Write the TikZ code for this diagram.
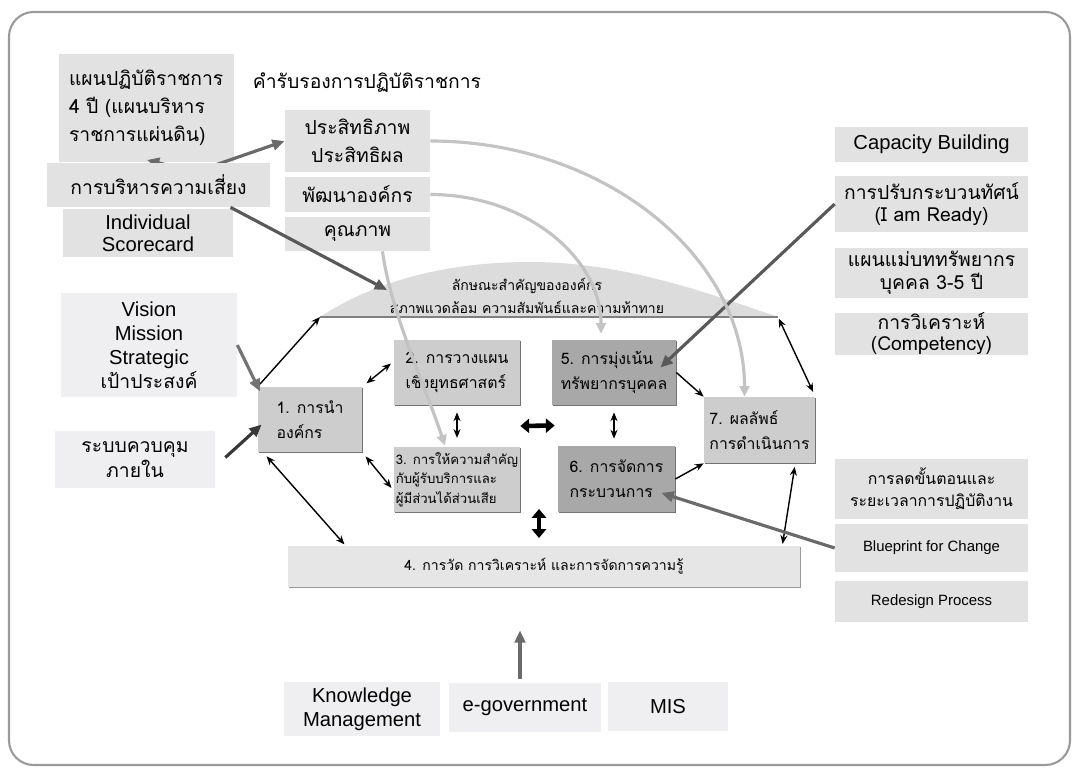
\documentclass[tikz,border=0pt]{standalone}
\usepackage{fontspec}
\setmainfont{Liberation Sans}
\newfontfamily\thaifont[Script=Thai]{Loma}
\usetikzlibrary{arrows.meta, shadows, calc}
\definecolor{framegray}{HTML}{9A9A9A}
\definecolor{sidegray}{HTML}{E2E2E2}
\definecolor{palegray}{HTML}{EFEFF1}
\definecolor{coregray}{HTML}{CDCDCD}
\definecolor{deepgray}{HTML}{A8A8A8}
\definecolor{bargray}{HTML}{E6E6E6}
\definecolor{archgray}{HTML}{DCDCDC}
\definecolor{softline}{HTML}{C3C3C3}
\definecolor{feedgray}{HTML}{6A6A6A}

\begin{document}
\begin{tikzpicture}[x=0.02cm, y=-0.02cm,
    bigthai/.style={font=\thaifont\fontsize{11}{16}\selectfont},
    biglatin/.style={font=\fontsize{11.5}{13}\selectfont},
    midthai/.style={font=\thaifont\fontsize{9}{14}\selectfont},
    side/.style={fill=sidegray, inner sep=0pt, align=center},
    pale/.style={fill=palegray, inner sep=0pt, align=center},
    core/.style={fill=coregray, inner sep=0pt, align=left, midthai,
                 drop shadow={shadow xshift=0.7pt, shadow yshift=-0.7pt, opacity=1, fill=black!55}},
    one/.style={-{Stealth[length=5pt,width=4pt]}, line width=0.8pt},
    duo/.style={{Stealth[length=5pt,width=4pt]}-{Stealth[length=5pt,width=4pt]}, line width=0.8pt},
    fat/.style={{Triangle[length=5pt,width=8pt]}-{Triangle[length=5pt,width=8pt]}, line width=2.6pt},
    feed/.style={-{Triangle[length=7pt,width=6pt]}, line width=1.8pt, draw=feedgray},
    soft/.style={-{Triangle[length=6pt,width=5.5pt]}, line width=1.8pt, draw=softline}]
  \useasboundingbox (0,0) rectangle (1074,767);
  \draw[framegray, line width=1.2pt, rounded corners=14pt] (9,12) rectangle (1070,765);

  % organisational profile
  \coordinate (archL) at (320,317);
  \coordinate (archR) at (778,317);
  \coordinate (archhit) at (387,290);
  \fill[archgray] (archL) .. controls (370,284) and (440,262) .. (530,262)
        .. controls (620,262) and (700,290) .. (archR) -- cycle;
  \draw[black!50, line width=1pt] (archL) -- (archR);
  \node[font=\thaifont\fontsize{8}{13.5}\selectfont, align=center] (profile) at (527,296)
        {ลักษณะสำคัญขององค์กร\\สภาพแวดล้อม ความสัมพันธ์และความท้าทาย};

  % top left
  \node[side, bigthai, align=left, text width=3.1cm, minimum width=3.5cm, minimum height=2.16cm]
        (plan) at (146.5,108) {แผนปฏิบัติราชการ\\4 ปี (แผนบริหาร\\ราชการแผ่นดิน)};
  \node[bigthai] (pledge) at (367,83) {คำรับรองการปฏิบัติราชการ};
  \node[side, bigthai, minimum width=2.9cm, minimum height=1.24cm] (eff) at (357.5,141) {ประสิทธิภาพ\\ประสิทธิผล};
  \node[side, bigthai, minimum width=2.9cm, minimum height=0.7cm] (dev) at (357.5,194.5) {พัฒนาองค์กร};
  \node[side, bigthai, minimum width=2.9cm, minimum height=0.68cm] (qual) at (357.5,234) {คุณภาพ};
  \node[side, font=\fontsize{11.5}{12.5}\selectfont, minimum width=3.4cm, minimum height=0.96cm]
        (score) at (148,233) {Individual\\Scorecard};
  \coordinate (riskcore) at (195,172);
  \draw[feed] (riskcore) -- (eff.west);
  \draw[feed] (riskcore) -- (147,160);
  \node[side, bigthai, minimum width=4.46cm, minimum height=0.88cm] (risk) at (158.5,185) {การบริหารความเสี่ยง};

  % right column
  \node[side, biglatin, minimum width=3.86cm, minimum height=0.7cm] (cap) at (931.5,144.5) {Capacity Building};
  \node[side, font=\thaifont\fontsize{11}{13}\selectfont, minimum width=3.86cm, minimum height=1.12cm]
        (ready) at (931.5,204) {การปรับกระบวนทัศน์\\(I am Ready)};
  \node[side, font=\thaifont\fontsize{11}{13}\selectfont, minimum width=3.86cm, minimum height=1.0cm]
        (hrplan) at (931.5,273) {แผนแม่บททรัพยากร\\บุคคล 3-5 ปี};
  \node[side, font=\thaifont\fontsize{11}{12}\selectfont, minimum width=3.86cm, minimum height=0.84cm]
        (comp) at (931.5,334) {การวิเคราะห์\\(Competency)};
  \node[side, font=\thaifont\fontsize{9}{12.5}\selectfont, minimum width=3.86cm, minimum height=1.2cm]
        (reduce) at (931.5,489) {การลดขั้นตอนและ\\ระยะเวลาการปฏิบัติงาน};
  \node[side, font=\fontsize{8.5}{10}\selectfont, minimum width=3.86cm, minimum height=0.96cm]
        (blue) at (931.5,548) {Blueprint for Change};
  \node[side, font=\fontsize{8.5}{10}\selectfont, minimum width=3.86cm, minimum height=0.82cm]
        (redes) at (931.5,601.5) {Redesign Process};

  % left inputs
  \node[pale, font=\fontsize{11.5}{13.6}\selectfont, minimum width=3.52cm, minimum height=2.08cm]
        (vms) at (149,345) {Vision\\Mission\\Strategic\\{\thaifont\fontsize{11}{13.6}\selectfont เป้าประสงค์}};
  \node[pale, font=\thaifont\fontsize{11}{14}\selectfont, minimum width=3.2cm, minimum height=1.14cm]
        (ictrl) at (135,459.5) {ระบบควบคุม\\ภายใน};

  % criteria boxes
  \node[core, minimum width=2.08cm, minimum height=1.3cm] (lead) at (310,419.5) {1. การนำ\\องค์กร};
  \node[core, minimum width=2.52cm, minimum height=1.3cm] (strat) at (457,372.5) {2. การวางแผน\\เชิงยุทธศาสตร์};
  \node[core, font=\thaifont\fontsize{7.5}{11}\selectfont, minimum width=2.52cm, minimum height=1.3cm]
        (cust) at (457,479.5) {3. การให้ความสำคัญ\\กับผู้รับบริการและ\\ผู้มีส่วนได้ส่วนเสีย};
  \node[core, fill=deepgray, minimum width=2.48cm, minimum height=1.3cm] (hr) at (614,372.5) {5. การมุ่งเน้น\\ทรัพยากรบุคคล};
  \node[core, fill=deepgray, minimum width=2.34cm, minimum height=1.32cm] (proc) at (616.5,479) {6. การจัดการ\\กระบวนการ};
  \node[core, minimum width=2.22cm, minimum height=1.32cm] (result) at (759.5,430) {7. ผลลัพธ์\\การดำเนินการ};
  \node[core, fill=bargray, align=center, font=\thaifont\fontsize{8}{10}\selectfont,
        drop shadow={shadow xshift=0.6pt, shadow yshift=-0.6pt, opacity=1, fill=black!40},
        minimum width=10.24cm, minimum height=0.82cm] (measure) at (544,566.5)
        {4. การวัด การวิเคราะห์ และการจัดการความรู้};
  \coordinate (gaptop) at (539,509);
  \coordinate (gapbot) at (539,538);

  % bottom tools
  \node[pale, font=\fontsize{11.5}{13.6}\selectfont, minimum width=3.12cm, minimum height=1.08cm]
        (km) at (362,709) {Knowledge\\Management};
  \node[pale, biglatin, minimum width=3.04cm, minimum height=0.98cm]
        (egov) at (525,707.5) {e-government};
  \node[pale, biglatin, minimum width=2.4cm, minimum height=0.98cm]
        (mis) at (668,706.5) {MIS};

  % links between criteria
  \draw[one, shorten <=2pt] (lead.north west) -- (archL);
  \draw[duo, shorten <=3pt, shorten >=2pt] (lead.north east) -- (strat.170);
  \draw[duo, shorten <=3pt, shorten >=2pt] (lead.south east) -- (cust.190);
  \draw[duo, shorten <=3pt, shorten >=1pt] (lead.215) -- (measure.174);
  \draw[duo, shorten <=4pt, shorten >=5pt] (strat.south) -- (cust.north);
  \draw[duo, shorten <=4pt, shorten >=4pt] (hr.south) -- (hr.south |- proc.north);
  \draw[fat] ($(strat.south east)!0.5!(cust.north east)$) -- ($(hr.south west)!0.5!(proc.north west)$);
  \draw[fat] (gaptop) -- (gapbot);
  \draw[one] (hr.east) -- (result.north west);
  \draw[one] (proc.east) -- (result.south west);
  \draw[duo, shorten <=1pt, shorten >=3pt] (archR) -- (result.north east);
  \draw[duo, shorten <=2pt, shorten >=1pt] (result.317) -- (measure.5.5);

  % inputs
  \draw[feed, draw=black!55, shorten >=-3pt] (vms.east) -- (lead.north west);
  \draw[feed, draw=black!78] ([shift={(10,-2)}]ictrl.east) -- ([shift={(4,5)}]lead.west);
  \draw[feed, draw=black!65] ([shift={(72,0)}]risk.south) -- (archhit);
  \draw[feed, draw=black!65] (ready.west) -- ([shift={(-16,-5)}]hr.east);
  \draw[feed] (blue.west) -- ([shift={(-14,14)}]proc.east);
  \draw[feed] ([shift={(-5,-4)}]egov.north) -- ([shift={(-24,43)}]measure.south);

  % certification links
  \draw[soft] (eff.east) .. controls +(173,0) and +(0,-141) .. ([shift={(-15,0)}]result.north);
  \draw[soft] (dev.east) .. controls +(94,0) and +(0,-77) .. ([shift={(-13,-6)}]hr.north);
  \draw[soft] ([shift={(25,0)}]qual.south) .. controls +(8,60) and +(-20,-60) .. ([shift={(-12,-1)}]cust.north);
\end{tikzpicture}
\end{document}
